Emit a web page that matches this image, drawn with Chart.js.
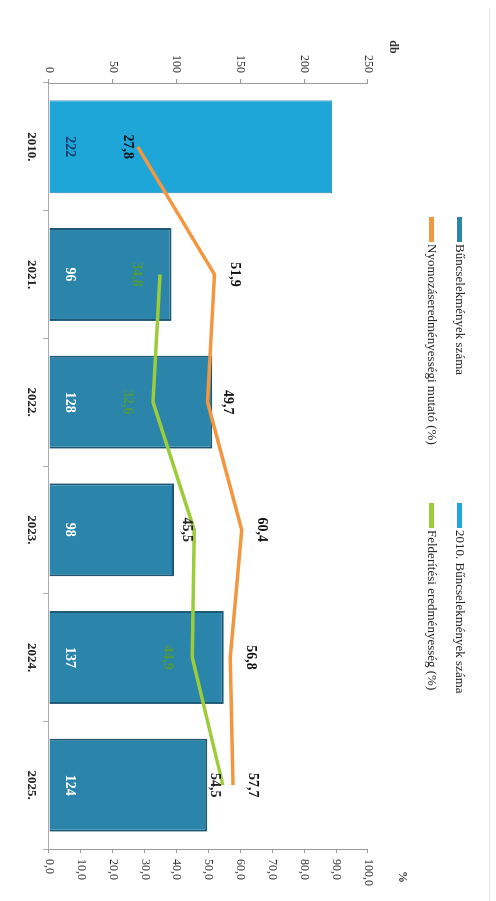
<!DOCTYPE html>
<html lang="hu">
<head>
    <meta charset="UTF-8">
    <title>Bűncselekmények száma és eredményesség</title>
    <script src="https://cdn.jsdelivr.net/npm/chart.js"></script>
    <style>
        body { margin: 0; background: #fff; width: 496px; height: 901px; overflow: hidden; position: relative; }
        #wrap { position: absolute; left: 0; top: 0; width: 901px; height: 496px;
                transform-origin: 0 0; transform: translateX(496px) rotate(90deg); }
        #legend { position: absolute; left: 217px; top: 22px; display: grid;
                  grid-template-columns: 286px auto; grid-auto-rows: 28px;
                  font-family: "Liberation Serif", serif; font-size: 13px; color: #222; }
        .item { display: flex; align-items: center; white-space: nowrap; }
        .mark { display: inline-block; width: 25px; height: 5px; margin-right: 2px; }
        #scanline { position: absolute; left: 489px; top: 8px; width: 1px; height: 893px; background: #e6e6e6; }
    </style>
</head>
<body>
    <div id="scanline"></div>
    <div id="wrap">
        <canvas id="chart" width="901" height="496"></canvas>
        <div id="legend"></div>
    </div>

    <script>
        // adatok
        const years = ["2010.", "2021.", "2022.", "2023.", "2024.", "2025."];
        const crimes2010 = [222, null, null, null, null, null];
        const crimes = [null, 96, 128, 98, 137, 124];
        const nyomozas = [27.8, 51.9, 49.7, 60.4, 56.8, 57.7];
        const felderites = [null, 34.8, 32.6, 45.5, 44.9, 54.5];
        const dbTicks = { min: 0, max: 250, step: 50 };
        const pctTicks = { min: 0, max: 100, step: 10 };

        const serif = "Liberation Serif";

        function fmt(v) {
            return v.toFixed(1).replace(".", ",");
        }

        // feliratok a pontokra / oszlopokra
        const valueLabels = {
            id: "valueLabels",
            afterDatasetsDraw(chart) {
                const c = chart.ctx;
                c.save();
                c.textAlign = "center";
                c.textBaseline = "middle";
                chart.data.datasets.forEach((ds, di) => {
                    const meta = chart.getDatasetMeta(di);
                    meta.data.forEach((el, i) => {
                        const v = ds.data[i];
                        if (v == null) return;
                        c.font = "bold 14px " + serif;
                        if (ds.type === "bar") {
                            c.fillStyle = ds.labelColor;
                            c.fillText(String(v), el.x, el.base - 20);
                        } else {
                            let y = el.y + ds.labelOffsets[i];
                            let col = ds.labelColor;
                            // oszlopon belül zöldes szín
                            chart.data.datasets.forEach((b, bi) => {
                                if (b.type !== "bar" || b.data[i] == null) return;
                                const bar = chart.getDatasetMeta(bi).data[i];
                                if (y > bar.y && ds.insideColor) col = ds.insideColor;
                            });
                            c.fillStyle = col;
                            c.fillText(fmt(v), el.x, y);
                        }
                    });
                });
                // tengelycímek
                c.font = "bold 12px " + serif;
                c.fillStyle = "#333";
                c.fillText("db", chart.scales.y.right - 36, chart.chartArea.top - 25);
                c.fillText("%", chart.scales.y1.left + 28, chart.chartArea.top - 34);
                c.restore();
            }
        };

        const chart = new Chart(document.getElementById("chart"), {
            data: {
                labels: years,
                datasets: [
                    {
                        type: "bar", label: "Bűncselekmények száma", data: crimes,
                        backgroundColor: "#2b84aa", borderColor: "#1b5876", borderWidth: 2,
                        yAxisID: "y", order: 1, skipNull: true,
                        categoryPercentage: 0.8, barPercentage: 0.91, labelColor: "#ffffff"
                    },
                    {
                        type: "bar", label: "2010. Bűncselekmények száma", data: crimes2010,
                        backgroundColor: "#1ea6d8", borderColor: "#1c7fa8", borderWidth: 1,
                        yAxisID: "y", order: 1, skipNull: true,
                        categoryPercentage: 0.8, barPercentage: 0.91, labelColor: "#1b3a6b"
                    },
                    {
                        type: "line", label: "Nyomozáseredményességi mutató (%)", data: nyomozas,
                        borderColor: "#f2973f", backgroundColor: "#f2973f", borderWidth: 3.5,
                        pointRadius: 0, yAxisID: "y1", order: 0, tension: 0,
                        labelOffsets: [10, -20, -20, -20, -20, -20], labelColor: "#111"
                    },
                    {
                        type: "line", label: "Felderítési eredményesség (%)", data: felderites,
                        borderColor: "#9dcc3b", backgroundColor: "#9dcc3b", borderWidth: 3.5,
                        pointRadius: 0, yAxisID: "y1", order: 0, tension: 0,
                        labelOffsets: [0, 23, 25, 8, 25, 8], labelColor: "#222", insideColor: "#4f9a3e"
                    }
                ]
            },
            options: {
                responsive: false,
                animation: false,
                layout: { padding: { top: 128, bottom: 0, left: 0, right: 0 } },
                plugins: {
                    legend: { display: false },
                    tooltip: { enabled: false }
                },
                scales: {
                    x: {
                        offset: true,
                        grid: { display: true, drawOnChartArea: false, tickLength: 6, color: "#aaa" },
                        border: { color: "#aaa" },
                        ticks: { font: { family: serif, size: 13, weight: "bold" }, color: "#222", padding: 4 },
                        afterFit: s => { s.height = 49; }
                    },
                    y: {
                        position: "left", min: dbTicks.min, max: dbTicks.max,
                        ticks: { stepSize: dbTicks.step, font: { family: serif, size: 12 }, color: "#333", padding: 6 },
                        grid: { drawOnChartArea: false, tickLength: 4, color: "#999" },
                        border: { color: "#999" },
                        afterFit: s => { s.width = 83; }
                    },
                    y1: {
                        position: "right", min: pctTicks.min, max: pctTicks.max,
                        ticks: { stepSize: pctTicks.step, font: { family: serif, size: 12 }, color: "#333", padding: 6,
                                 callback: v => fmt(v) },
                        grid: { drawOnChartArea: false, tickLength: 4, color: "#999" },
                        border: { color: "#999" },
                        afterFit: s => { s.width = 52; }
                    }
                }
            },
            plugins: [valueLabels]
        });

        // jelmagyarázat két oszlopban
        const legendOrder = [0, 1, 2, 3];
        const legendBox = document.getElementById("legend");
        legendOrder.forEach(di => {
            const ds = chart.data.datasets[di];
            const item = document.createElement("div");
            item.className = "item";
            const mark = document.createElement("span");
            mark.className = "mark";
            mark.style.background = ds.type === "bar" ? ds.backgroundColor : ds.borderColor;
            item.appendChild(mark);
            item.appendChild(document.createTextNode(ds.label));
            legendBox.appendChild(item);
        });
    </script>
</body>
</html>
